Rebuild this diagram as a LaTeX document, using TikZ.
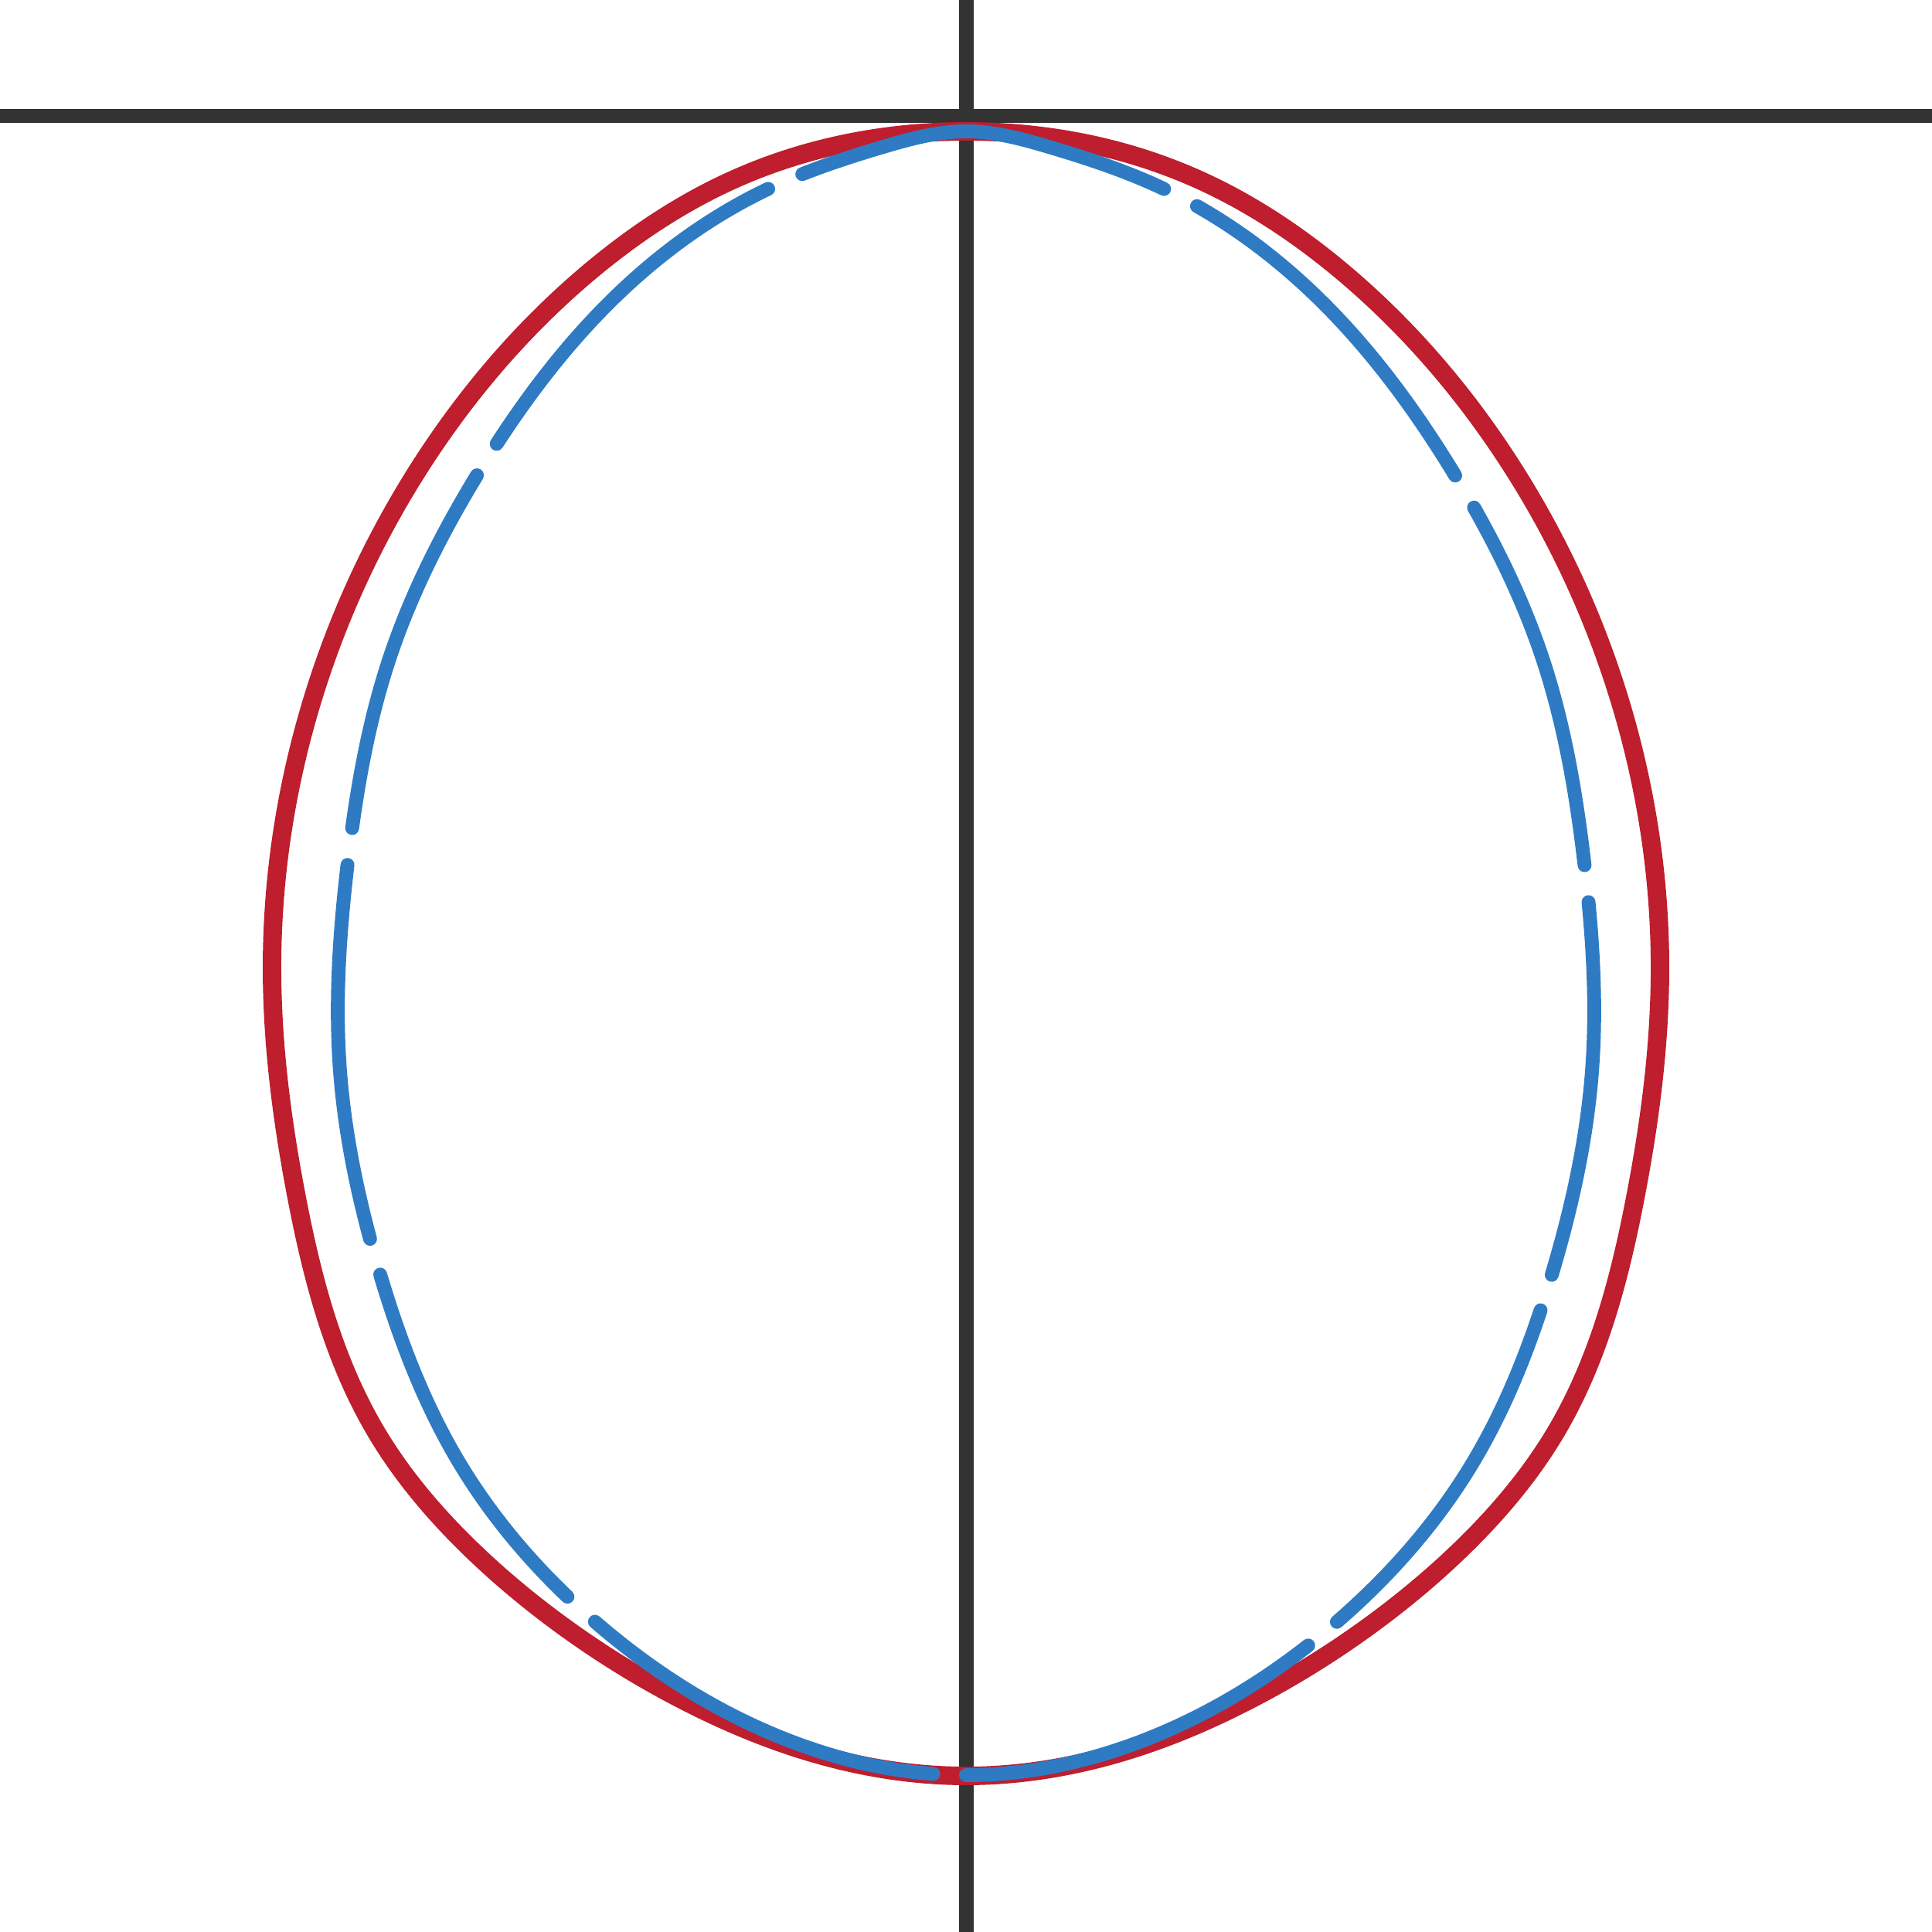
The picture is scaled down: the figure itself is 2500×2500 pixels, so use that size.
\documentclass[tikz,border=0pt]{standalone}
\usepackage{tikz}
\usetikzlibrary{hobby}
\definecolor{axisgray}{HTML}{333333}
\definecolor{eggred}{HTML}{BE1E2D}
\definecolor{eggblue}{HTML}{2E7BC4}
\tikzset{
  axisline/.style={draw=axisgray, line width=5.4pt},
  outeregg/.style={draw=eggred, line width=6.8pt, line join=round},
  inneregg/.style={draw=eggblue, line width=5.1pt, line cap=round, line join=round,
     dash pattern=on 138.85pt off 13.66pt, dash phase=1.71pt},
}
\begin{document}
\begin{tikzpicture}[x=0.01cm, y=-0.01cm]
\useasboundingbox (0,0) rectangle (2500,2500);
% axes
\coordinate (vtop) at (1250,0);
\coordinate (vbot) at (1250,2500);
\coordinate (hleft) at (0,150);
\coordinate (hright) at (2500,150);
\draw[axisline] (vtop) -- (vbot);
\draw[axisline] (hleft) -- (hright);
% outer red egg
\draw[outeregg] plot[closed hobby] coordinates {
 (1250,170) (1550,232) (1735,350) (1954,600) (2094,900) (2148,1250)
 (2116,1550) (2015,1850) (1887,2008) (1788,2092) (1622,2197) (1453,2267)
 (1250,2298)
 (1047,2267) (878,2197) (712,2092) (613,2008) (485,1850) (384,1550)
 (352,1250) (406,900) (546,600) (765,350) (950,232)
};
% inner blue dashed egg
\draw[inneregg] plot[closed hobby] coordinates {
 (1250,2297) (1509,2240) (1733,2096) (1905,1894) (2009,1646) (2060,1386)
 (2050,1116) (1997,855) (1881,612) (1720,400) (1503,243) (1357,190)
 (1250,170)
 (1143,190) (997,243) (780,400) (619,612) (503,855) (450,1116) (440,1386)
 (491,1646) (595,1894) (767,2096) (991,2240)
};
\end{tikzpicture}
\end{document}
